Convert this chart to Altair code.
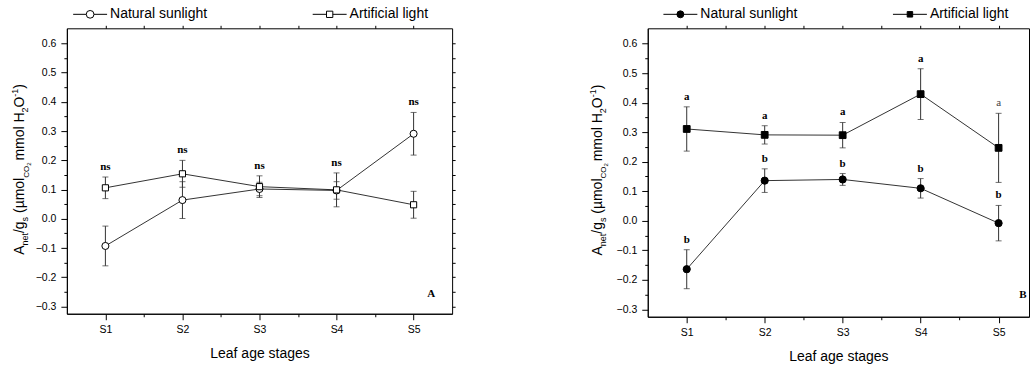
import altair as alt
import pandas as pd

# ---- data -------------------------------------------------------------
stages = ["S1", "S2", "S3", "S4", "S5"]
series = ["Natural sunlight", "Artificial light"]

# Panel A
a_natural = [-0.093, 0.064, 0.102, 0.097, 0.291]
a_natural_se = [0.068, 0.063, 0.023, 0.030, 0.073]
a_artificial = [0.106, 0.154, 0.110, 0.099, 0.048]
a_artificial_se = [0.037, 0.046, 0.037, 0.058, 0.046]
a_letters = ["ns", "ns", "ns", "ns", "ns"]

# Panel B
b_natural = [-0.164, 0.136, 0.140, 0.110, -0.008]
b_natural_se = [0.066, 0.040, 0.020, 0.033, 0.060]
b_artificial = [0.311, 0.291, 0.290, 0.429, 0.247]
b_artificial_se = [0.075, 0.031, 0.043, 0.086, 0.117]
b_natural_letters = ["b", "b", "b", "b", "b"]
b_artificial_letters = ["a", "a", "a", "a", "a"]

y_ticks = [-0.3, -0.25, -0.2, -0.15, -0.1, -0.05, 0.0, 0.05, 0.1, 0.15, 0.2,
           0.25, 0.3, 0.35, 0.4, 0.45, 0.5, 0.55, 0.6]
x_ticks = [1, 1.5, 2, 2.5, 3, 3.5, 4, 4.5, 5]
y_domain = [-0.325, 0.652]

FONT = "Liberation Sans"
SERIF = "Liberation Serif"


def series_frame(nat, nat_se, art, art_se):
    rows = []
    for i, st in enumerate(stages):
        rows.append(dict(idx=i + 1, stage=st, series=series[0], mean=nat[i], se=nat_se[i]))
        rows.append(dict(idx=i + 1, stage=st, series=series[1], mean=art[i], se=art_se[i]))
    df = pd.DataFrame(rows)
    df["lo"] = df["mean"] - df["se"]
    df["hi"] = df["mean"] + df["se"]
    return df


df_a = series_frame(a_natural, a_natural_se, a_artificial, a_artificial_se)
df_b = series_frame(b_natural, b_natural_se, b_artificial, b_artificial_se)

# significance letters sit above the highest error bar (A) or above each series (B)
lab_a = pd.DataFrame({
    "idx": list(range(1, 6)),
    "label": a_letters,
    "top": df_a.groupby("idx")["hi"].max().tolist(),
    "bold": [True] * 5,
})
lab_b = pd.concat([
    pd.DataFrame({"idx": list(range(1, 6)), "label": b_natural_letters,
                  "top": df_b[df_b.series == series[0]]["hi"].tolist(),
                  "bold": [True] * 5}),
    pd.DataFrame({"idx": list(range(1, 6)), "label": b_artificial_letters,
                  "top": df_b[df_b.series == series[1]]["hi"].tolist(),
                  "bold": [True, True, True, True, False]}),
], ignore_index=True)

# ---- y-axis title with sub/superscripts, laid out piece by piece --------
CHAR_W = {"A": .667, "n": .556, "e": .556, "t": .278, "/": .278, "g": .556, "s": .5,
          " ": .278, "(": .333, "µ": .576, "m": .833, "o": .556, "l": .222, "C": .722,
          "O": .778, "2": .556, "H": .722, "-": .333, "1": .556, ")": .333}
# (text, font size, baseline shift, extra advance before the piece)
TITLE_PARTS = [("A", 14, 0, 0), ("net", 9, 4, 0), ("/g", 14, 0, 0), ("s", 9, 4, 0),
               (" (µmol", 14, 0, 0), ("CO", 8, 4.5, 0), ("2", 6, 6.5, 0),
               (" mmol H", 14, 0, -2), ("2", 9, 4, 0), ("O", 14, 0, 0),
               ("-1", 9, -6, 0), (")", 14, 0, 0)]


def title_frame(base_x, bottom_y):
    rows, pos = [], bottom_y
    for txt, fs, shift, extra in TITLE_PARTS:
        # a leading blank becomes an advance of the start position instead
        lead = len(txt) - len(txt.lstrip(" "))
        pos -= lead * CHAR_W[" "] * fs + extra
        body = txt.lstrip(" ")
        rows.append(dict(t=body, fs=fs, px=base_x + shift, py=pos))
        pos -= sum(CHAR_W[c] for c in body) * fs
    return pd.DataFrame(rows)


def key_frame(x0, step, yc):
    # one key entry per series: a short line, a marker on it, then the name
    return pd.DataFrame({
        "series": series,
        "x1": [x0 + i * step for i in range(len(series))],
        "x2": [x0 + i * step + 34 for i in range(len(series))],
        "xm": [x0 + i * step + 17 for i in range(len(series))],
        "xt": [x0 + i * step + 37 for i in range(len(series))],
        "yc": [yc] * len(series),
    })


def panel(df, labels, filled, x_max, width, height, tag, tag_xy,
          key_xy, key_step, title_xy, right_ticks):
    xs = alt.Scale(domain=[0.5, x_max], nice=False, zero=False)
    ys = alt.Scale(domain=y_domain, nice=False, zero=False)
    major_x = "abs(datum.value - round(datum.value)) < 0.01"
    major_y = "abs(datum.value * 10 - round(datum.value * 10)) < 0.01"
    x = alt.X("idx:Q", scale=xs,
              axis=alt.Axis(values=x_ticks,
                            labelExpr=f"{major_x} ? 'S' + datum.value : ''",
                            tickSize={"condition": {"test": major_x, "value": 6}, "value": 3},
                            title="Leaf age stages", labelPadding=5,
                            titlePadding=11, labelFlush=False))

    def y(field):
        return alt.Y(f"{field}:Q", scale=ys,
                     axis=alt.Axis(values=y_ticks,
                                   labelExpr=f"{major_y} ? format(datum.value, '.1f') : ''",
                                   tickSize={"condition": {"test": major_y, "value": 6},
                                             "value": 3},
                                   title=None, labelPadding=5))

    base = alt.Chart(df)
    lines = base.mark_line(color="black", strokeWidth=0.8).encode(
        x=x, y=y("mean"), detail="series:N")
    bars = base.mark_rule(color="#333333", strokeWidth=1).encode(
        x=x, y=y("lo"), y2="hi:Q")
    caps = base.transform_fold(["lo", "hi"], as_=["end", "v"]).mark_tick(
        orient="horizontal", size=6, thickness=1, color="#333333").encode(
        x=x, y=y("v"))

    fill = "black" if filled else "white"
    nat_pts = base.transform_filter(alt.datum.series == series[0]).mark_point(
        shape="circle", size=52 if filled else 50, filled=True, fill=fill,
        stroke="black", strokeWidth=1, opacity=1).encode(x=x, y=y("mean"))
    art_pts = base.transform_filter(alt.datum.series == series[1]).mark_point(
        shape="square", size=46 if filled else 38, filled=True, fill=fill,
        stroke="black", strokeWidth=1, opacity=1).encode(x=x, y=y("mean"))

    # key above the plot
    kdf = key_frame(key_xy[0], key_step, key_xy[1])
    kbase = alt.Chart(kdf)
    px = lambda f: alt.X(f"{f}:Q", scale=None, axis=None)
    py = alt.Y("yc:Q", scale=None, axis=None)
    key_line = kbase.mark_rule(color="black", strokeWidth=1).encode(
        x=px("x1"), x2="x2:Q", y=py)
    key_nat = kbase.transform_filter(alt.datum.series == series[0]).mark_point(
        shape="circle", size=48 if filled else 60, filled=True, fill=fill,
        stroke="black", strokeWidth=1, opacity=1).encode(x=px("xm"), y=py)
    key_art = kbase.transform_filter(alt.datum.series == series[1]).mark_point(
        shape="square", size=30 if filled else 40, filled=True, fill=fill,
        stroke="black", strokeWidth=1, opacity=1).encode(x=px("xm"), y=py)
    key_txt = kbase.mark_text(font=FONT, fontSize=14, align="left", baseline="middle",
                              color="black").encode(x=px("xt"), y=py, text="series:N")

    lab = alt.Chart(labels)
    lab_bold = lab.transform_filter("datum.bold").mark_text(
        font=SERIF, fontWeight="bold", fontSize=11, baseline="alphabetic", dy=-7,
        color="black").encode(x=x, y=y("top"), text="label:N")
    lab_plain = lab.transform_filter("!datum.bold").mark_text(
        font=SERIF, fontSize=11, baseline="alphabetic", dy=-7,
        color="#444444").encode(x=x, y=y("top"), text="label:N")

    tag_mark = alt.Chart(pd.DataFrame({"t": [tag]})).mark_text(
        font=SERIF, fontWeight="bold", fontSize=11, color="black").encode(
        x=alt.value(tag_xy[0]), y=alt.value(tag_xy[1]), text="t:N")

    ytitle = alt.Chart(title_frame(*title_xy)).mark_text(
        angle=270, align="left", baseline="alphabetic", font=FONT,
        color="black").encode(
        x=alt.X("px:Q", scale=None, axis=None),
        y=alt.Y("py:Q", scale=None, axis=None),
        text="t:N", size=alt.Size("fs:Q", scale=None, legend=None))

    content = alt.layer(lines, bars, caps, nat_pts, art_pts, key_line, key_nat, key_art,
                        key_txt, lab_bold, lab_plain, tag_mark, ytitle)

    # tick marks along the top (and right) edge of the frame
    right_axis = (alt.Axis(orient="right", values=y_ticks, labels=False, tickSize=3,
                           domain=False, title=None) if right_ticks else None)
    frame = base.mark_point(opacity=0).encode(
        x=alt.X("idx:Q", scale=xs, axis=alt.Axis(orient="top", values=x_ticks,
                                                 labels=False, tickSize=3, domain=False,
                                                 title=None)),
        y=alt.Y("mean:Q", scale=ys, axis=right_axis))

    return alt.layer(content, frame).resolve_axis(
        x="independent", y="independent").properties(width=width, height=height)


panel_a = panel(df_a, lab_a, False, 5.5, 386, 286, "A", (365, 266),
                (6.3, -14), 240, (-42.7, 227), True)
panel_b = panel(df_b, lab_b, True, 5.39, 382, 289, "B", (376, 267),
                (15.7, -14), 230, (-46, 227.7), False)

chart = alt.hconcat(panel_a, panel_b, spacing=196, bounds="flush").properties(
    padding={"left": 10, "top": 6, "right": 0, "bottom": 0},
    background="white",
).configure_view(stroke="black", strokeWidth=1).configure_axis(
    labelFont=FONT, labelFontSize=10.5, labelColor="black", tickColor="black",
    domainColor="black", titleFont=FONT, titleFontSize=14, titleFontWeight="normal",
    titleColor="black", grid=False, domainWidth=1, tickWidth=1
)

chart.save("out.html", embed_options={"renderer": "svg", "actions": False})
